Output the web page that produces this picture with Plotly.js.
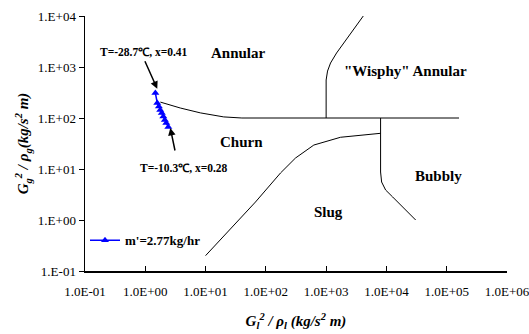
<!DOCTYPE html>
<html><head><meta charset="utf-8">
<script src="https://cdn.plot.ly/plotly-3.0.1.min.js"></script>
<style>html,body{margin:0;padding:0;background:#fff}#chart{width:529px;height:334px}</style>
</head><body><div id="chart"></div>
<script>
// Tick definitions
const xTickVals = [0.1, 1, 10, 100, 1e3, 1e4, 1e5, 1e6];
const xTickText = ["1.0E-01","1.0E+00","1.0E+01","1.0E+02","1.0E+03","1.0E+04","1.0E+05","1.0E+06"];
const yTickVals = [0.1, 1, 10, 100, 1e3, 1e4];
const yTickText = ["1.E-01","1.E+00","1.E+01","1.E+02","1.E+03","1.E+04"];

// Measured series m'=2.77 kg/hr
const seriesName = "m'=2.77kg/hr";
const dataX = [1.47, 1.58, 1.68, 1.77, 1.88, 1.99, 2.11, 2.23, 2.41];
const dataY = [309, 197, 168, 144, 125, 107, 91.4, 79.8, 66.6];

// Flow-regime boundaries
const annChurnX = [1.78, 3.81, 8.2, 20, 40, 1.6e5];
const annChurnY = [205, 157, 126, 105, 100, 100];
const wispyX = [1000, 1000, 1055, 1183, 1489, 4130];
const wispyY = [100, 556, 832, 1198, 1882, 10000];
const slugX = [10, 25.8, 67.2, 175, 310, 625, 1730, 8000];
const slugY = [0.2, 0.667, 2.25, 8.35, 16.4, 29.5, 41.9, 50.1];
const bubblyX = [8000, 8000, 8320, 9700, 12680, 30550];
const bubblyY = [100, 8.73, 5.56, 3.87, 2.83, 1.0];

// Region labels
const regionText = ["Annular", "Churn", "\"Wisphy\" Annular", "Slug", "Bubbly"];
const regionX = [35.1, 39.4, 20840, 1096, 72300];
const regionY = [1884, 33.8, 836, 1.44, 7.3];

const FONT = "'Liberation Serif', 'Times New Roman', serif";
const L = Math.log10;

function boundary(x, y) {
  return {x: x, y: y, mode: 'lines', type: 'scatter', showlegend: false,
          hoverinfo: 'skip', line: {color: '#000', width: 1}};
}

const traces = [
  boundary(annChurnX, annChurnY),
  boundary(wispyX, wispyY),
  boundary(slugX, slugY),
  boundary(bubblyX, bubblyY),
  {x: dataX, y: dataY, mode: 'lines+markers', type: 'scatter', name: '<b>' + seriesName + '</b>',
   line: {color: '#0000FF', width: 1.5},
   marker: {symbol: 'triangle-up', size: 7, color: '#0000FF'}}
];

const annotations = regionText.map((t, i) => ({
  x: L(regionX[i]), y: L(regionY[i]), xref: 'x', yref: 'y', text: '<b>' + t + '</b>',
  showarrow: false, font: {family: FONT, size: 15, color: '#000'}
}));
annotations.push({
  x: L(1.58), y: L(374), xref: 'x', yref: 'y', text: '', showarrow: true,
  ax: -13, ay: -29, arrowhead: 2, arrowsize: 1, arrowwidth: 1.5, arrowcolor: '#000'
});
annotations.push({
  x: L(2.60), y: L(63.7), xref: 'x', yref: 'y', text: '', showarrow: true,
  ax: 5, ay: 24, arrowhead: 2, arrowsize: 1, arrowwidth: 1.5, arrowcolor: '#000'
});
annotations.push({
  x: L(0.962), y: L(2000), xref: 'x', yref: 'y', text: '<b>T=-28.7℃, x=0.41</b>',
  showarrow: false, font: {family: FONT, size: 11.5, color: '#000'}
});
annotations.push({
  x: L(4.4), y: L(10.5), xref: 'x', yref: 'y', text: '<b>T=-10.3℃, x=0.28</b>',
  showarrow: false, font: {family: FONT, size: 11.5, color: '#000'}
});

const layout = {
  width: 529, height: 334,
  margin: {l: 85, r: 22, t: 16, b: 63},
  paper_bgcolor: '#fff', plot_bgcolor: '#fff',
  font: {family: FONT, size: 13, color: '#000'},
  showlegend: true,
  legend: {x: 0.0, y: 0.12, xanchor: 'left', yanchor: 'middle', bgcolor: 'rgba(0,0,0,0)',
           font: {family: FONT, size: 13, color: '#000'}, itemwidth: 30},
  xaxis: {
    type: 'log', range: [-1, 6], showgrid: false, zeroline: false,
    showline: true, linecolor: '#000', linewidth: 1.5,
    ticks: 'inside', ticklen: 5, tickwidth: 1, tickcolor: '#000',
    tickmode: 'array', tickvals: xTickVals, ticktext: xTickText,
    tickfont: {family: FONT, size: 13, color: '#000'}, ticklabelstandoff: 8,
    ticklabeloverflow: 'allow',
    title: {text: '<b><i>G<sub>l</sub><sup>2</sup> / ρ<sub>l</sub> (kg/s<sup>2</sup> m)</i></b>',
            font: {family: FONT, size: 15, color: '#000'}, standoff: 17}
  },
  yaxis: {
    type: 'log', range: [-1, 4], showgrid: false, zeroline: false,
    showline: true, linecolor: '#000', linewidth: 1.5,
    ticks: 'outside', ticklen: 5, tickwidth: 1, tickcolor: '#000',
    tickmode: 'array', tickvals: yTickVals, ticktext: yTickText,
    tickfont: {family: FONT, size: 13, color: '#000'},
    title: {text: '<b><i>G<sub>g</sub><sup>2</sup> / ρ<sub>g</sub>(kg/s<sup>2</sup> m)</i></b>',
            font: {family: FONT, size: 15, color: '#000'}, standoff: 5}
  },
  annotations: annotations
};

Plotly.newPlot('chart', traces, layout, {displayModeBar: false, staticPlot: true});
</script>
</body></html>
